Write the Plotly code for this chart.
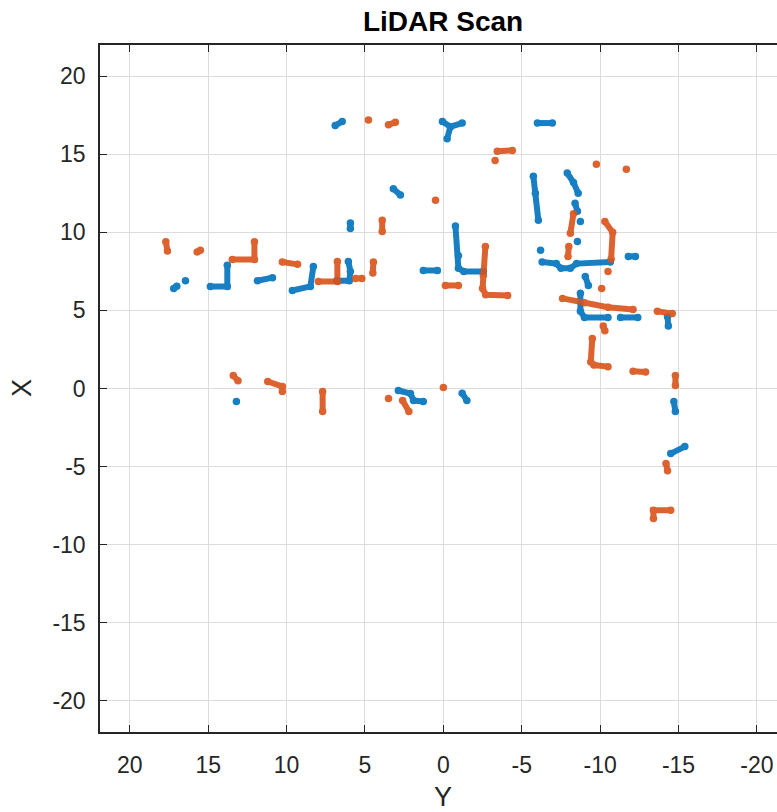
import plotly.graph_objects as go

# Scan 1 (blue) polylines, horizontal = Y, vertical = X; None separates clusters
blue_Y = [6.9, 6.45, None,
          0.06, -0.45, -1.2, None, -0.45, -0.24, None,
          -6.0, -6.95, None,
          3.19, 2.74, None,
          -5.74, -5.87, -6.06, None,
          -7.9, -8.3, -8.6, None, -8.4, -8.55, None, -8.74, None,
          5.93, 5.93, None,
          -0.77, -0.96, -0.96, -1.3, -2.55, None,
          1.28, 0.38, None,
          6.06, 5.93, 6.0, 6.8, None,
          17.2, 17.0, None, 16.45, None,
          14.86, 13.78, 13.78, None,
          11.86, 10.9, None,
          9.63, 8.48, 8.29, None,
          -6.2, None,
          -6.3, -7.2, -7.5, -8.1, -8.5, -10.65, None,
          -11.8, -12.25, None,
          -8.55, None,
          -9.05, -9.25, None,
          -8.74, -8.74, -9.0, -10.5, None, -11.3, -12.4, None,
          -14.3, -14.35, None,
          -14.7, -14.8, None,
          -14.5, -15.4, None,
          13.2, None,
          2.87, 2.1, 1.9, 1.28, None,
          -1.2, -1.5]
blue_X = [16.85, 17.1, None,
          17.1, 16.77, 17.0, None, 16.77, 16.0, None,
          17.0, 17.0, None,
          12.8, 12.4, None,
          13.6, 12.5, 10.77, None,
          13.8, 13.2, 12.5, None, 11.86, 11.35, None, 10.7, None,
          10.6, 10.25, None,
          10.4, 8.5, 7.7, 7.5, 7.5, None,
          7.56, 7.56, None,
          8.14, 7.5, 6.9, 6.9, None,
          6.4, 6.55, None, 6.9, None,
          6.54, 6.54, 7.9, None,
          6.9, 7.1, None,
          6.28, 6.54, 7.82, None,
          8.85, None,
          8.1, 8.0, 7.7, 7.7, 8.0, 8.1, None,
          8.46, 8.46, None,
          9.42, None,
          7.18, 6.6, None,
          6.1, 4.94, 4.55, 4.55, None, 4.55, 4.55, None,
          4.6, 4.0, None,
          -0.83, -1.47, None,
          -4.17, -3.72, None,
          -0.83, None,
          -0.13, -0.32, -0.77, -0.83, None,
          -0.3, -0.77]

# Scan 2 (orange)
red_Y = [17.7, 17.6, None,
         15.7, 15.5, None,
         13.46, 12.05, 12.05, None,
         10.27, 9.3, None,
         7.97, 6.76, 6.76, None,
         5.6, 5.2, None,
         4.46, 4.5, None,
         3.9, 3.9, None,
         4.78, None,
         3.5, 3.06, None,
         -3.44, -4.4, None, -3.3, None,
         0.5, None,
         -0.13, -0.96, None,
         -2.68, -2.55, -2.5, -2.7, -4.1, None,
         -9.76, None, -11.67, None,
         -8.3, -8.1, None,
         -8.0, -7.95, None,
         -10.3, -10.8, -10.7, None, -10.5, None,
         -10.1, None,
         -7.6, -9.0, -10.5, -12.1, None,
         -13.65, -14.6, None,
         -10.2, -10.3, None,
         -9.5, -9.4, -9.6, -10.5, None,
         -12.1, -12.9, None,
         -14.8, -14.8, None,
         -14.2, -14.3, None,
         -14.5, -13.4, -13.4, None,
         13.4, 13.1, None,
         11.2, 10.27, 10.27, None,
         7.7, 7.7, None,
         3.5, None,
         2.6, 2.2, None,
         0.0]
red_X = [9.4, 8.8, None,
         8.75, 8.85, None,
         8.27, 8.27, 9.4, None,
         8.1, 7.95, None,
         6.86, 6.86, 8.14, None,
         7.05, 7.05, None,
         8.1, 7.4, None,
         10.77, 10.06, None,
         17.2, None,
         16.9, 17.05, None,
         15.2, 15.25, None, 14.6, None,
         12.05, None,
         6.6, 6.6, None,
         9.1, 7.24, 6.4, 6.0, 5.96, None,
         14.36, None, 14.04, None,
         11.2, 9.94, None,
         9.1, 8.46, None,
         10.7, 10.0, 8.3, None, 7.5, None,
         6.4, None,
         5.77, 5.5, 5.2, 5.06, None,
         4.94, 4.8, None,
         4.0, 3.7, None,
         3.2, 1.7, 1.5, 1.4, None,
         1.1, 1.05, None,
         0.83, 0.2, None,
         -4.8, -5.26, None,
         -7.8, -7.8, -8.33, None,
         0.83, 0.5, None,
         0.45, 0.13, -0.2, None,
         -0.2, -1.47, None,
         -0.64, None,
         -0.77, -1.47, None,
         0.06]

tick_vals = [-20, -15, -10, -5, 0, 5, 10, 15, 20]
tick_text = ["-20", "-15", "-10", "-5", "0", "5", "10", "15", "20"]

BLUE = "#0072BD"
ORANGE = "#D95319"
TXT = "#262626"
FONT = "Liberation Sans, Arial, Helvetica"

fig = go.Figure()
for xs, ys, c in [(blue_Y, blue_X, BLUE), (red_Y, red_X, ORANGE)]:
    fig.add_trace(go.Scatter(
        x=xs, y=ys, mode="lines+markers",
        line=dict(color=c, width=6),
        marker=dict(color=c, size=7.5, line=dict(width=0)),
        opacity=0.9, connectgaps=False, showlegend=False, hoverinfo="skip"))

axis_common = dict(
    tickvals=tick_vals, ticktext=tick_text, ticks="inside", ticklen=7, tickwidth=1,
    tickcolor=TXT, showline=True, linecolor=TXT, linewidth=1.5,
    showgrid=True, gridcolor="#dcdcdc", gridwidth=1,
    zeroline=False, tickfont=dict(family=FONT, size=23, color=TXT),
)

fig.update_layout(
    width=777, height=812,
    margin=dict(l=100, r=0, t=45, b=80),
    paper_bgcolor="white", plot_bgcolor="white",
    title=dict(text="<b>LiDAR Scan</b>", x=(443 - 100) / 677, xref="paper", xanchor="center",
               y=1 - 21 / 812, yref="container", yanchor="middle",
               font=dict(family=FONT, size=28, color="black")),
    xaxis=dict(range=[21.9, -21.28], mirror="ticks", ticklabelstandoff=12, **axis_common),
    yaxis=dict(range=[-22, 22], mirror=False, ticklabelstandoff=8, **axis_common),
)
fig.add_annotation(text="Y", x=(443 - 100) / 677, xref="paper", y=-(797 - 732) / 687, yref="paper",
                   yanchor="middle", showarrow=False,
                   font=dict(family=FONT, size=27, color=TXT))
fig.add_annotation(text="X", x=-(100 - 22) / 677, xref="paper", y=(732 - 388) / 687, yref="paper",
                   xanchor="center", yanchor="middle", textangle=-90, showarrow=False,
                   font=dict(family=FONT, size=27, color=TXT))

fig.write_html("out.html")
